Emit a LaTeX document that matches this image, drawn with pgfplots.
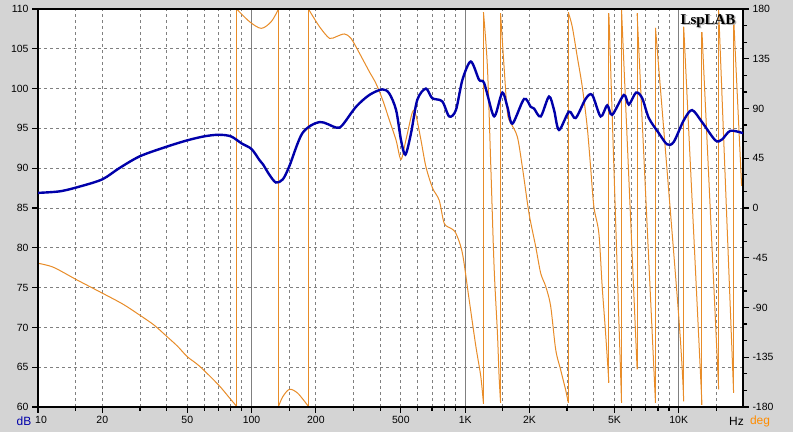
\documentclass[border=0pt]{standalone}
\usepackage{fontspec}
\setmainfont{Liberation Sans}
\newfontfamily\logofont{Liberation Serif}
\usepackage{pgfplots}
\usepackage{pgfplotstable}
\pgfplotsset{compat=1.18}

\definecolor{bggray}{RGB}{212,212,212}
\definecolor{gridgray}{RGB}{128,128,128}
\definecolor{magblue}{RGB}{0,0,170}
\definecolor{phaseorange}{RGB}{232,140,40}
\definecolor{degorange}{RGB}{255,140,0}

% magnitude, dB
\pgfplotstableread{
f dB
10 86.9
12.7 87.1
15.7 87.7
20 88.6
24 90.0
30 91.5
40 92.7
50 93.5
60 94.0
70 94.2
80 94.0
90 93.1
100 92.4
109 91.0
113 90.5
121 89.2
130 88.2
140 88.6
150 90.2
173 94.4
208 95.8
249 95.1
266 95.4
308 97.7
356 99.2
409 99.9
441 99.4
475 97.3
501 93.5
525 91.7
558 94.4
597 98.6
655 100.0
701 98.8
781 98.4
842 96.5
905 97.3
971 101.1
1063 103.4
1162 101.1
1227 100.7
1342 96.9
1391 96.8
1494 99.5
1577 97.7
1665 95.6
1888 98.7
2029 97.7
2101 97.5
2258 96.5
2469 99.0
2608 97.3
2751 94.8
3063 97.1
3292 96.3
3664 98.7
3935 99.2
4307 96.5
4625 97.9
4880 96.7
5533 99.2
5838 98.0
6313 99.5
6744 98.8
7244 96.3
8069 94.4
8820 93.0
9475 93.3
10550 96.0
11540 97.3
12850 95.8
14840 93.5
15930 93.6
17450 94.7
20000 94.4
}\magdata

% phase, deg: one segment per wrap, nan rows between them
\pgfplotstableread{
f deg
10 -50
11.8 -53.6
15.2 -65
20 -77
25 -87
30 -97
35 -106
40 -116
45 -125
50 -134.5
57 -143
70 -160
79 -172
85.4 -179.7
85.4 nan
85.4 179.7
97.9 168.5
111 162.5
123.6 168.5
133.5 179.7
133.5 nan
133.5 -179.7
140 -170.7
150.5 -164
164.6 -167.6
185 -179.7
185 nan
185 179.7
208 164
231.5 153.5
249 155
272 157.4
292 153.5
320 140
356 123.3
382 112.8
411 97.7
441.5 79.6
474.6 61.5
500.6 44
528 61.5
567 87
588 84
621 61.5
655 37.4
704 18
756 7
798 -13.8
858 -18.4
905 -22.9
971 -41
1044 -83
1122 -125
1184 -152.6
1218 -177
1218 nan
1218 177
1271 128
1319 37
1366 -53
1416 -113
1442 -152.6
1465 -176
1465 nan
1465 176
1521 128
1577 86
1635 77
1755 64.5
1852 37.4
1991 -4.8
2140 -35
2258 -59
2384 -71
2515 -89
2654 -128
2801 -146.5
2955 -164.6
3040 -176
3040 nan
3040 177
3173 164
3348 137
3533 110
3728 73.5
3868 37
4007 1
4228 -23
4381 -71
4545 -113
4709 -158
4709 nan
4709 176
5399 -176
5399 nan
5399 179
6386 -146
6386 nan
6386 176
7783 -176
7783 nan
7783 163
10000 -98
10552 -175
10552 nan
10552 164
12850 -178
12850 nan
12850 159
15380 -164
15380 nan
15380 179
18070 -167
18070 nan
18070 173
19700 20
}\phasedata

% phase wraps: the jumps from -180 to +180
\pgfplotstableread{
f deg
85.4 -179.7
85.4 179.7
85.4 nan
133.5 179.7
133.5 -179.7
133.5 nan
185 -179.7
185 179.7
185 nan
1218 -177
1218 177
1218 nan
1465 -176
1465 176
1465 nan
3040 -176
3040 177
3040 nan
4709 -158
4709 176
4709 nan
5399 -176
5399 179
5399 nan
6386 -146
6386 176
6386 nan
7783 -176
7783 163
7783 nan
10552 -175
10552 164
10552 nan
12850 -178
12850 159
12850 nan
15380 -164
15380 179
15380 nan
18070 -167
18070 173
}\wrapdata

\begin{document}
\begin{tikzpicture}
\useasboundingbox (0,0) rectangle (793bp,432bp);
\fill[bggray] (0,0) rectangle (793bp,432bp);

% grid and dB scale
\begin{axis}[
  at={(38bp,25bp)}, anchor=south west,
  width=705bp, height=398bp, scale only axis,
  xmode=log, xmin=10, xmax=20000,
  ymin=60, ymax=110, ytick={60,65,...,110},
  xtick pos=left, ytick pos=left,
  tick align=outside,
  major tick length=6bp, minor tick length=4bp,
  every tick/.style={draw=black, line width=1.2bp},
  tick label style={font=\fontsize{10.5}{12}\selectfont},
  xtick={10,20,50,200,500,2000,5000},
  xticklabels={\hspace{6bp}10,20,50,200,500,2K,5K},
  extra x ticks={100,1000,10000},
  extra x tick labels={100,1K,10K},
  extra x tick style={major grid style={solid, draw=gridgray, line width=1bp}},
  minor xtick={15,30,40,60,70,80,90,150,300,400,600,700,800,900,1500,3000,4000,6000,7000,8000,9000,15000},
  grid=both,
  major grid style={draw=gridgray, line width=0.8bp, dash pattern=on 3bp off 3bp},
  minor grid style={draw=gridgray, line width=0.8bp, dash pattern=on 3bp off 3bp},
  axis background/.style={fill=white},
  axis line style={line width=2.5bp},
  /pgf/number format/assume math mode=true,
]
\end{axis}

% phase, right scale
\begin{axis}[
  at={(38bp,25bp)}, anchor=south west,
  width=705bp, height=398bp, scale only axis,
  xmode=log, xmin=10, xmax=20000,
  ymin=-180, ymax=180, ytick={-180,-135,...,180}, minor y tick num=2,
  axis y line*=right, hide x axis,
  tick align=outside,
  major tick length=6bp, minor tick length=4bp,
  every tick/.style={draw=black, line width=1.2bp},
  tick label style={font=\fontsize{10.5}{12}\selectfont},
  axis line style={line width=2.5bp},
  unbounded coords=jump,
  /pgf/number format/assume math mode=true,
]
\addplot[phaseorange, line width=1bp, smooth, tension=0.5] table[x=f, y=deg] {\phasedata};
\addplot[phaseorange, line width=1bp] table[x=f, y=deg] {\wrapdata};
\end{axis}

% magnitude on top
\begin{axis}[
  at={(38bp,25bp)}, anchor=south west,
  width=705bp, height=398bp, scale only axis,
  xmode=log, xmin=10, xmax=20000,
  ymin=60, ymax=110, xtick=\empty, ytick=\empty,
  axis line style={line width=2.5bp},
]
\addplot[magblue, line width=2.4bp, smooth, tension=0.5] table[x=f, y=dB] {\magdata};
\end{axis}

\node[text=magblue, font=\fontsize{12}{14}\selectfont] at (24bp,10.3bp) {dB};
\node[font=\fontsize{12}{14}\selectfont] at (736.5bp,10.3bp) {Hz};
\node[text=degorange, font=\fontsize{12}{14}\selectfont] at (760bp,10.3bp) {deg};
\node[text=gray!60, font=\logofont\bfseries\fontsize{15}{15}\selectfont] at (709.5bp,409.5bp) {LspLAB};
\node[font=\logofont\bfseries\fontsize{15}{15}\selectfont] at (708bp,411bp) {LspLAB};
\end{tikzpicture}
\end{document}
